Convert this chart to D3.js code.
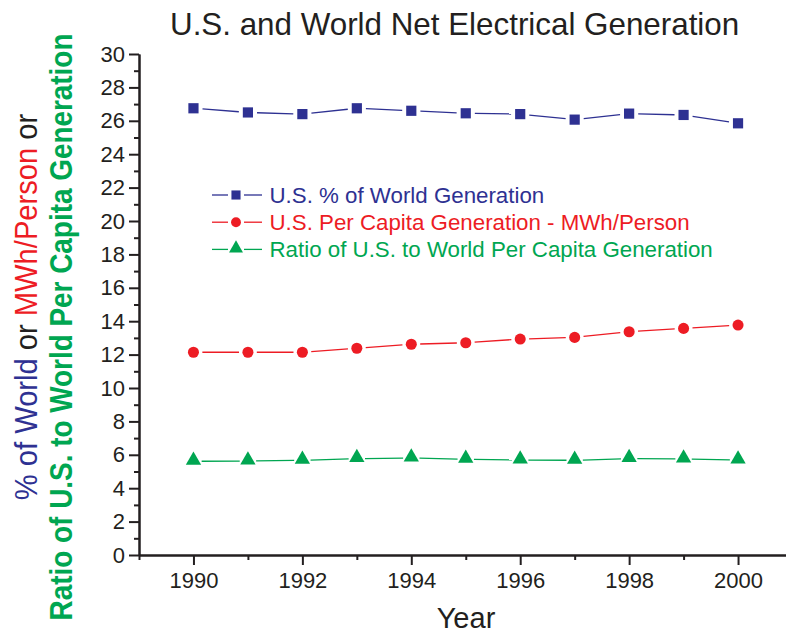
<!DOCTYPE html>
<html>
<head>
<meta charset="utf-8">
<script src="https://cdn.jsdelivr.net/npm/d3@7"></script>
<style>
  html, body { margin: 0; padding: 0; background: #fff; }
  svg { display: block; font-family: "Liberation Sans", Arial, Helvetica, sans-serif; }
</style>
</head>
<body>
<svg id="chart" width="786" height="634"></svg>
<script>
// Years on the x axis
const years = [1990, 1991, 1992, 1993, 1994, 1995, 1996, 1997, 1998, 1999, 2000];

// U.S. share of world net electrical generation (%)
const usShareOfWorld = [26.75, 26.5, 26.4, 26.75, 26.6, 26.45, 26.4, 26.07, 26.43, 26.35, 25.85];

// U.S. per capita generation (MWh/person)
const usPerCapita = [12.14, 12.14, 12.14, 12.38, 12.62, 12.71, 12.93, 13.03, 13.37, 13.57, 13.77];

// Ratio of U.S. to world per capita generation
const perCapitaRatio = [5.61, 5.63, 5.67, 5.77, 5.81, 5.73, 5.69, 5.67, 5.77, 5.75, 5.69];

const yMajorTicks = [0, 2, 4, 6, 8, 10, 12, 14, 16, 18, 20, 22, 24, 26, 28, 30];
const xMajorTicks = [1990, 1992, 1994, 1996, 1998, 2000];

const seriesNames = [
  "U.S. % of World Generation",
  "U.S. Per Capita Generation - MWh/Person",
  "Ratio of U.S. to World Per Capita Generation"
];

const ink = "#231f20";
const colors = ["#2e3192", "#ed1c24", "#00a651"];
const shapes = [d3.symbolSquare, d3.symbolCircle, d3.symbolTriangle];
const symbolAreas = [104, 96, 70];
const seriesValues = [usShareOfWorld, usPerCapita, perCapitaRatio];

const svg = d3.select("#chart");

const x = d3.scaleLinear().domain([1989, 2001]).range([139, 792.5]);
const y = d3.scaleLinear().domain([0, 30]).range([555, 54]);

// ---- axes ----
const yAxis = svg.append("g").attr("transform", `translate(${x.range()[0]},0)`);
yAxis.call(d3.axisLeft(y).tickValues(yMajorTicks).tickSize(10).tickPadding(4).tickSizeOuter(0));
const yMinor = svg.append("g").attr("transform", `translate(${x.range()[0]},0)`);
yMinor.call(d3.axisLeft(y).tickValues(d3.range(1, 30, 2)).tickSize(5).tickFormat("").tickSizeOuter(0));

const xAxis = svg.append("g").attr("transform", `translate(0,${y.range()[0]})`);
xAxis.call(d3.axisBottom(x).tickValues(xMajorTicks).tickFormat(d3.format("d")).tickSize(10).tickPadding(7).tickSizeOuter(0));
const xMinor = svg.append("g").attr("transform", `translate(0,${y.range()[0]})`);
xMinor.call(d3.axisBottom(x).tickValues([1989, 1991, 1993, 1995, 1997, 1999, 2001]).tickSize(5).tickFormat("").tickSizeOuter(0));

svg.selectAll(".domain").attr("stroke", ink).attr("stroke-width", 2);
svg.selectAll(".tick line").attr("stroke", ink).attr("stroke-width", 2);
yAxis.selectAll(".tick text").attr("font-size", 22).attr("fill", ink)
  .attr("font-family", "Liberation Sans, Arial, sans-serif");
xAxis.selectAll(".tick text").attr("font-size", 22).attr("fill", ink)
  .attr("font-family", "Liberation Sans, Arial, sans-serif");

// ---- series: broken connecting lines with markers ----
const gap = 4;
seriesValues.forEach((vals, i) => {
  const pts = years.map((yr, j) => [x(yr), y(vals[j])]);
  const r = Math.sqrt(symbolAreas[i]) / 2 + gap;
  const segs = d3.pairs(pts).map(([a, b]) => {
    const dx = b[0] - a[0], dy = b[1] - a[1];
    const len = Math.hypot(dx, dy);
    const ux = dx / len, uy = dy / len;
    return [a[0] + ux * r, a[1] + uy * r, b[0] - ux * r, b[1] - uy * r];
  });
  const g = svg.append("g");
  g.selectAll("line").data(segs).join("line")
    .attr("x1", d => d[0]).attr("y1", d => d[1])
    .attr("x2", d => d[2]).attr("y2", d => d[3])
    .attr("stroke", colors[i]).attr("stroke-width", 1.3);
  const sym = d3.symbol().type(shapes[i]).size(symbolAreas[i] * (i === 2 ? 1.45 : 1));
  g.selectAll("path").data(pts).join("path")
    .attr("d", sym)
    .attr("transform", d => `translate(${d[0]},${d[1] + (i === 2 ? -1 : 0)})`)
    .attr("fill", colors[i]);
});

// ---- legend ----
const legend = svg.append("g");
seriesNames.forEach((name, i) => {
  const cy = 195 + i * 27.2;
  const row = legend.append("g");
  row.append("line").attr("x1", 212).attr("x2", 228).attr("y1", cy).attr("y2", cy)
    .attr("stroke", colors[i]).attr("stroke-width", 1.3);
  row.append("line").attr("x1", 244).attr("x2", 262).attr("y1", cy).attr("y2", cy)
    .attr("stroke", colors[i]).attr("stroke-width", 1.3);
  row.append("path")
    .attr("d", d3.symbol().type(shapes[i]).size(symbolAreas[i] * (i === 2 ? 1.2 : 0.8)))
    .attr("transform", `translate(236,${cy + (i === 2 ? -1 : 0)})`)
    .attr("fill", colors[i]);
  row.append("text").attr("x", 269.5).attr("y", cy + 8)
    .attr("font-size", 22.3).attr("fill", colors[i]).text(name);
});

// ---- titles ----
svg.append("text")
  .attr("transform", "translate(170,35) scale(0.98,1)")
  .attr("font-size", 32).attr("fill", ink)
  .text("U.S. and World Net Electrical Generation");

svg.append("text")
  .attr("x", 466).attr("y", 628)
  .attr("text-anchor", "middle")
  .attr("font-size", 29).attr("fill", ink)
  .text("Year");

// Y axis title, two rotated lines
const yt1 = svg.append("text")
  .attr("transform", "translate(37,307) rotate(-90) scale(0.94,1)")
  .attr("text-anchor", "middle")
  .attr("font-size", 31).attr("fill", ink);
yt1.append("tspan").attr("fill", colors[0]).text("% of World");
yt1.append("tspan").text(" or ");
yt1.append("tspan").attr("fill", colors[1]).text("MWh/Person");
yt1.append("tspan").text(" or");

svg.append("text")
  .attr("transform", "translate(72,327) rotate(-90) scale(0.9,1)")
  .attr("text-anchor", "middle")
  .attr("font-size", 31).attr("font-weight", "bold").attr("fill", colors[2])
  .text("Ratio of U.S. to World Per Capita Generation");
</script>
</body>
</html>
